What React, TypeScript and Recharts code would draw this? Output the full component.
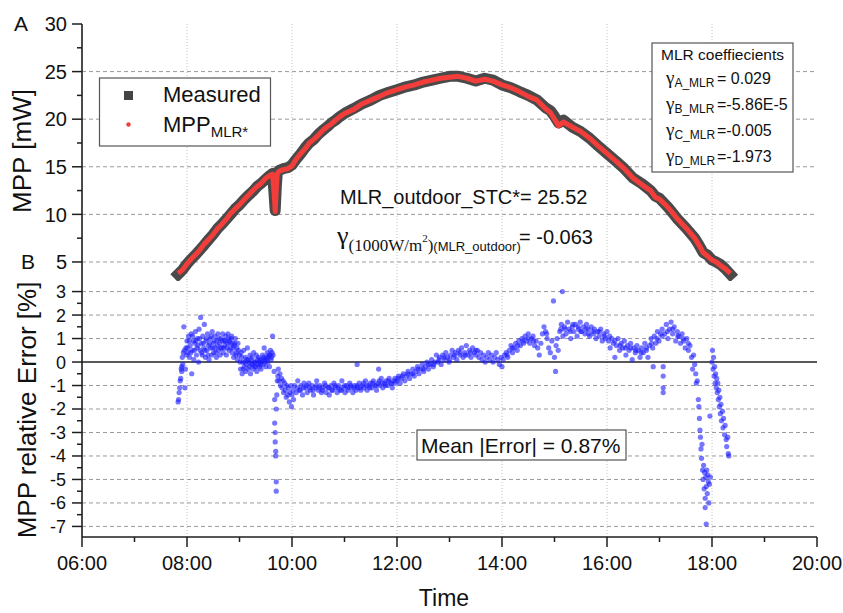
import { CartesianGrid, ComposedChart, Line, ReferenceLine, Scatter, XAxis, YAxis } from "recharts";

const SANS = "'Liberation Sans', Arial, Helvetica, sans-serif";
const SERIF = "'Liberation Serif', 'Times New Roman', serif";
const AXIS = "#1e1e1e";
const INK = "#111";

// axes (time in decimal hours)
const hourTicks = [6, 7, 8, 9, 10, 11, 12, 13, 14, 15, 16, 17, 18, 19, 20];
const hourLabels = [6, 8, 10, 12, 14, 16, 18, 20];
const hourGrid = [8, 10, 12, 14, 16, 18];
const mppTicks = [5, 7.5, 10, 12.5, 15, 17.5, 20, 22.5, 25, 27.5, 30];
const mppLabels = [5, 10, 15, 20, 25, 30];
const mppGrid = [5, 10, 15, 20, 25];
const errTicks = [-7, -6.5, -6, -5.5, -5, -4.5, -4, -3.5, -3, -2.5, -2, -1.5, -1, -0.5, 0, 0.5, 1, 1.5, 2, 2.5, 3];
const errLabels = [-7, -6, -5, -4, -3, -2, -1, 0, 1, 2, 3];
const errGrid = [-7, -6, -5, -4, -3, -2, -1, 1, 2, 3];

// panel A: MPP over the day
const mppTimes = [
  7.83, 7.92, 8.0, 8.08, 8.17, 8.25, 8.33, 8.42, 8.5, 8.58, 8.67, 8.75, 8.83, 8.92, 9.0, 9.08, 9.17, 9.25, 9.33, 9.42,
  9.5, 9.58, 9.63, 9.66, 9.68, 9.7, 9.72, 9.75, 9.83, 9.92, 10.0, 10.08, 10.17, 10.25, 10.33, 10.42, 10.5, 10.58, 10.67, 10.75,
  10.83, 10.92, 11.0, 11.17, 11.33, 11.5, 11.67, 11.83, 12.0, 12.17, 12.33, 12.5, 12.67, 12.83, 13.0, 13.17, 13.33, 13.5, 13.67, 13.83,
  14.0, 14.17, 14.33, 14.5, 14.67, 14.83, 14.92, 15.0, 15.08, 15.17, 15.33, 15.5, 15.67, 15.83, 16.0, 16.17, 16.33, 16.5, 16.67, 16.83,
  16.92, 17.0, 17.17, 17.33, 17.5, 17.67, 17.75, 17.83, 17.92, 18.0, 18.08, 18.17, 18.25, 18.35,
];
const measuredMpp = [
  3.7, 4.2, 4.8, 5.3, 5.8, 6.3, 6.8, 7.4, 7.9, 8.5, 9.0, 9.5, 10.0, 10.6, 11.0, 11.5, 12.0, 12.4, 12.9, 13.3,
  13.7, 14.1, 14.3, 12.0, 10.4, 12.8, 14.4, 14.6, 14.8, 14.9, 15.2, 15.8, 16.4, 17.0, 17.5, 17.9, 18.4, 18.8, 19.2, 19.6,
  19.9, 20.3, 20.6, 21.1, 21.6, 22.0, 22.5, 22.8, 23.1, 23.4, 23.6, 23.9, 24.1, 24.3, 24.5, 24.5, 24.3, 24.0, 24.3, 24.1,
  23.6, 23.3, 22.9, 22.5, 22.0, 21.2, 20.9, 20.3, 19.6, 19.9, 19.2, 18.7, 18.0, 17.2, 16.4, 15.6, 14.8, 13.8, 13.2, 12.5,
  11.9, 11.7, 10.7, 9.6, 8.6, 7.5, 6.8, 6.0, 5.7, 5.2, 5.0, 4.7, 4.3, 3.7,
];
const modelMpp = [
  3.8, 4.2, 4.8, 5.3, 5.8, 6.3, 6.9, 7.4, 7.9, 8.5, 9.0, 9.5, 10.1, 10.6, 11.0, 11.5, 12.0, 12.5, 12.9, 13.3,
  13.8, 14.1, 14.2, 12.2, 10.3, 12.6, 14.3, 14.5, 14.7, 14.8, 15.1, 15.8, 16.4, 16.9, 17.5, 17.9, 18.3, 18.8, 19.2, 19.5,
  19.9, 20.3, 20.6, 21.0, 21.6, 22.0, 22.4, 22.8, 23.1, 23.4, 23.6, 23.9, 24.1, 24.3, 24.4, 24.5, 24.3, 24.0, 24.2, 24.0,
  23.6, 23.3, 22.9, 22.4, 22.0, 21.1, 20.7, 20.0, 19.3, 19.7, 19.2, 18.7, 18.0, 17.2, 16.4, 15.6, 14.8, 13.8, 13.1, 12.5,
  11.8, 11.6, 10.7, 9.6, 8.6, 7.5, 6.8, 6.0, 5.6, 5.2, 5.0, 4.6, 4.3, 3.8,
];

// panel B: relative error [%] as [time, error]
const dawnErrors = [
  [7.83, -1.7], [7.84, -1.6], [7.85, -1.3], [7.86, -1.1], [7.87, -0.8], [7.88, -0.7], [7.89, -0.3], [7.9, -0.4], [7.9, -0.2],
  [7.91, 0.2], [7.92, -0.1], [7.93, 0.4], [7.94, 1.5], [7.95, 0.5], [7.96, -1.1], [7.97, -0.3], [7.98, 0.6], [7.99, 0.3],
  [8.0, 0.9], [8.02, 0.4], [8.03, 1.1], [8.05, 0.2], [8.06, 0.7], [8.08, 1.2], [8.09, -0.5], [8.1, 0.5], [8.12, 0.9], [8.13, 0.1],
  [8.15, 0.8], [8.16, 1.3], [8.18, 0.3], [8.19, 0.6], [8.2, 1.0], [8.22, 0.0], [8.23, 1.4], [8.25, 0.5], [8.26, 1.9], [8.27, 0.8],
  [8.29, 0.3], [8.3, 1.1], [8.32, 0.6], [8.33, 1.6], [8.35, 0.2], [8.36, 0.9], [8.38, 0.5], [8.39, 1.2], [8.41, 0.7], [8.42, 0.1],
  [8.44, 1.0], [8.45, 0.6], [8.47, 0.3], [8.48, 1.3], [8.5, 0.8], [8.51, 0.4], [8.53, 1.1], [8.54, 0.6], [8.56, 0.2], [8.57, 0.9],
  [8.59, 1.2], [8.6, 0.5], [8.62, 0.8], [8.63, 0.3], [8.65, 1.0], [8.66, 0.6], [8.68, 1.2], [8.69, 0.4], [8.71, 0.9], [8.72, 0.7],
  [8.74, 1.1], [8.75, 0.3], [8.77, 0.8], [8.78, 1.2], [8.8, 0.5], [8.81, 0.9], [8.83, 0.6], [8.84, 1.0], [8.86, 0.4], [8.87, 0.8],
  [8.89, 0.2], [8.9, 0.7], [8.92, 1.0], [8.93, 0.3], [8.95, 0.6], [8.96, 0.1], [8.98, 0.5],
];
const morningErrors = [
  [9.0, 0.3], [9.02, -0.3], [9.03, 0.4], [9.05, -0.5], [9.06, 0.0], [9.08, 0.5], [9.09, -0.2], [9.11, 0.2], [9.12, -0.4], [9.14, 0.1],
  [9.15, 0.6], [9.17, -0.3], [9.18, 0.0], [9.2, 0.3], [9.21, -0.5], [9.23, -0.1], [9.24, 0.2], [9.26, -0.3], [9.27, 0.4], [9.29, -0.2],
  [9.3, 0.0], [9.32, 0.3], [9.33, -0.4], [9.35, -0.1], [9.36, 0.2], [9.38, -0.2], [9.39, 0.1], [9.41, -0.3], [9.42, 0.0], [9.44, 0.3],
  [9.45, -0.1], [9.47, 0.6], [9.48, 0.1], [9.5, -0.2], [9.51, 0.2], [9.53, 0.4], [9.54, 0.0], [9.56, 0.3], [9.57, -0.2], [9.59, 0.5],
  [9.6, 0.1], [9.62, 0.4], [9.63, 1.1], [9.64, 0.3], [9.66, -0.4], [9.67, -1.6], [9.67, -2.6], [9.68, -3.0], [9.68, -3.4], [9.69, -3.8],
  [9.69, -4.0], [9.7, -5.1], [9.7, -5.5], [9.7, -2.0], [9.71, -1.4], [9.72, -0.8], [9.73, -0.6], [9.74, -0.3], [9.75, -0.8], [9.77, -0.5],
  [9.78, -1.0], [9.8, -0.7], [9.81, -1.1], [9.83, -0.8], [9.84, -1.3], [9.86, -0.9], [9.87, -1.2], [9.89, -1.5], [9.9, -1.0], [9.92, -1.4],
  [9.93, -1.1], [9.95, -1.7], [9.96, -1.3], [9.98, -1.0], [9.99, -1.9], [10.0, -1.4], [10.02, -1.2], [10.03, -1.6],
];
const middayErrors = [
  [10.05, -1.0], [10.08, -1.3], [10.11, -0.8], [10.14, -1.2], [10.17, -1.0], [10.2, -1.4], [10.23, -0.9], [10.26, -1.1], [10.29, -1.3],
  [10.32, -0.9], [10.35, -1.2], [10.38, -1.0], [10.41, -1.4], [10.44, -1.1], [10.47, -0.8], [10.5, -1.2], [10.53, -1.0], [10.56, -1.3],
  [10.59, -1.1], [10.62, -0.9], [10.65, -1.3], [10.68, -1.1], [10.71, -1.4], [10.74, -1.0], [10.77, -1.2], [10.8, -0.9], [10.83, -1.1],
  [10.86, -1.3], [10.89, -1.0], [10.92, -1.2], [10.95, -0.8], [10.98, -1.1], [11.01, -1.3], [11.04, -1.0], [11.07, -1.2], [11.1, -0.9],
  [11.13, -1.1], [11.16, -1.3], [11.19, -1.0], [11.22, -1.2], [11.24, -0.1], [11.25, -1.1], [11.28, -0.9], [11.31, -1.2], [11.34, -1.0],
  [11.37, -1.1], [11.4, -0.8], [11.43, -1.2], [11.46, -1.0], [11.49, -0.9], [11.52, -1.1], [11.55, -0.8], [11.58, -1.0], [11.61, -1.2],
  [11.64, -0.9], [11.65, -0.3], [11.67, -1.0], [11.7, -0.7], [11.73, -1.1], [11.76, -0.9], [11.79, -0.8], [11.82, -1.0], [11.85, -0.7],
  [11.88, -0.9], [11.91, -1.1], [11.94, -0.8], [11.97, -0.9], [12.0, -0.8], [12.03, -0.6], [12.06, -0.9], [12.09, -0.7], [12.12, -0.5],
  [12.15, -0.8], [12.18, -0.6], [12.21, -0.4], [12.24, -0.7], [12.27, -0.5], [12.3, -0.3], [12.33, -0.6], [12.36, -0.4], [12.39, -0.2],
  [12.42, -0.5], [12.45, -0.3], [12.48, -0.1], [12.51, -0.4], [12.54, -0.2], [12.57, 0.0], [12.6, -0.3], [12.63, -0.1], [12.66, 0.1],
  [12.69, -0.2], [12.72, 0.0], [12.75, 0.3], [12.78, 0.0], [12.81, 0.2], [12.84, -0.1], [12.87, 0.3], [12.9, 0.1], [12.93, 0.4],
  [12.96, 0.2], [12.99, 0.0], [13.02, 0.3], [13.05, 0.5], [13.08, 0.2], [13.11, 0.4], [13.14, 0.1], [13.17, 0.5], [13.2, 0.3],
  [13.23, 0.6], [13.26, 0.2], [13.29, 0.4], [13.32, 0.7], [13.35, 0.3], [13.38, 0.5], [13.41, 0.2], [13.44, 0.6], [13.47, 0.4],
  [13.5, 0.3], [13.53, 0.5], [13.56, 0.2], [13.59, 0.4],
];
const afternoonErrors = [
  [13.62, 0.1], [13.65, 0.3], [13.68, 0.0], [13.71, 0.2], [13.74, 0.4], [13.77, 0.1], [13.8, 0.3], [13.83, 0.0], [13.86, 0.2],
  [13.89, 0.4], [13.92, 0.1], [13.95, -0.1], [13.98, 0.2], [14.0, -0.2], [14.02, 0.1], [14.05, 0.3], [14.08, 0.4], [14.11, 0.2],
  [14.14, 0.5], [14.17, 0.7], [14.2, 0.4], [14.23, 0.6], [14.26, 0.8], [14.29, 0.5], [14.32, 0.9], [14.35, 0.7], [14.38, 1.0],
  [14.41, 0.8], [14.44, 1.1], [14.47, 0.9], [14.5, 1.2], [14.53, 0.8], [14.56, 1.0], [14.59, 1.1], [14.62, 0.7], [14.65, 0.9],
  [14.68, 0.6], [14.71, 0.3], [14.74, 0.8], [14.77, 1.2], [14.8, 1.5], [14.83, 1.3], [14.86, 1.0], [14.89, 0.6], [14.92, 0.4],
  [14.95, 0.9], [14.98, 2.6], [15.0, 0.2], [15.02, -0.4], [15.03, 0.7], [15.05, 1.0], [15.07, 0.5], [15.1, 1.3], [15.13, 1.6],
  [15.15, 3.0], [15.16, 1.1], [15.19, 1.5], [15.22, 1.2], [15.25, 1.7], [15.28, 1.4], [15.31, 1.0], [15.34, 1.5], [15.37, 1.3],
  [15.4, 1.6], [15.43, 1.1], [15.46, 1.4], [15.49, 1.7], [15.52, 1.3], [15.55, 1.5], [15.58, 1.2], [15.61, 1.6], [15.64, 1.4],
  [15.67, 1.1], [15.7, 1.5], [15.73, 1.3], [15.76, 1.4], [15.79, 1.0], [15.82, 1.3], [15.85, 1.1], [15.88, 1.4], [15.91, 0.9],
  [15.94, 1.2], [15.97, 1.0], [16.0, 1.3], [16.03, 0.9], [16.06, 0.6], [16.09, 1.0], [16.12, 0.8], [16.15, 0.2], [16.18, 0.7],
  [16.21, 1.0], [16.24, 0.5], [16.27, 0.8], [16.3, 0.6], [16.33, 0.9], [16.36, 0.3], [16.39, 0.7], [16.42, 0.5], [16.45, 0.8],
  [16.48, 0.1], [16.51, 0.6], [16.54, 0.4], [16.57, 0.7], [16.6, 0.5], [16.63, 0.2], [16.66, 0.6], [16.69, 0.4], [16.72, 0.8],
  [16.75, 0.5], [16.78, 0.2], [16.81, 0.7], [16.84, 1.0], [16.87, 0.6], [16.88, -0.2], [16.9, 1.1], [16.93, 0.8], [16.96, 1.3],
  [16.99, 0.9], [17.02, 1.2], [17.05, 1.4], [17.07, -0.2], [17.07, -0.6], [17.07, -1.1], [17.07, -1.3],
];
const duskErrors = [
  [17.1, 1.2], [17.13, 1.6], [17.16, 1.0], [17.19, 1.4], [17.22, 1.7], [17.25, 1.2], [17.28, 1.5], [17.31, 0.9], [17.34, 1.3],
  [17.37, 1.1], [17.4, 0.8], [17.43, 1.2], [17.46, 0.9], [17.49, 0.6], [17.52, 1.0], [17.55, 0.5], [17.58, 0.7], [17.61, 0.2],
  [17.63, -0.3], [17.65, 0.3], [17.67, -0.1], [17.69, -0.5], [17.7, -0.9], [17.72, -0.8], [17.74, -1.6], [17.75, -1.9], [17.76, -2.4],
  [17.77, -2.9], [17.78, -3.2], [17.79, -3.7], [17.8, -4.1], [17.81, -3.5], [17.82, -4.6], [17.83, -5.0], [17.84, -4.4], [17.85, -5.4],
  [17.86, -4.7], [17.87, -5.8], [17.87, -6.2], [17.88, -4.9], [17.89, -5.3], [17.89, -6.9], [17.9, -4.6], [17.91, -5.6], [17.92, -4.8],
  [17.93, -5.1], [17.94, -6.0], [17.95, -5.2], [17.96, -2.3], [17.97, -4.9], [18.0, 0.0], [18.01, 0.5], [18.02, -0.3], [18.03, 0.2],
  [18.04, -0.6], [18.05, -0.2], [18.06, -0.9], [18.07, -0.5], [18.08, -1.1], [18.09, -0.7], [18.1, -1.3], [18.11, -0.9], [18.12, -1.6],
  [18.13, -1.2], [18.14, -1.9], [18.15, -1.5], [18.16, -2.2], [18.17, -1.8], [18.18, -2.5], [18.2, -2.1], [18.21, -2.8], [18.22, -2.4],
  [18.24, -3.1], [18.25, -2.7], [18.27, -3.3], [18.28, -3.6], [18.3, -3.2], [18.31, -3.9], [18.32, -4.0],
];
// extra readings inside the dense parts of the cloud
const cloudErrors = [
  [8.01, 0.6], [8.04, 0.9], [8.07, 0.4], [8.11, 1.1], [8.14, 0.5], [8.17, 0.9], [8.21, 0.7], [8.24, 1.0], [8.28, 0.4], [8.31, 0.8],
  [8.34, 0.5], [8.37, 1.0], [8.4, 0.3], [8.43, 0.8], [8.46, 1.1], [8.49, 0.6], [8.52, 0.9], [8.55, 0.4], [8.58, 0.7], [8.61, 1.0],
  [8.64, 0.6], [8.67, 0.9], [8.7, 0.6], [8.73, 0.9], [8.76, 0.6], [8.79, 1.0], [8.82, 0.8], [8.85, 1.1], [8.88, 0.6], [8.91, 0.8],
  [8.94, 0.4], [8.97, 0.8], [9.01, 0.0], [9.04, 0.2], [9.07, -0.3], [9.1, 0.0], [9.13, -0.1], [9.16, 0.1], [9.19, -0.2], [9.22, 0.1],
  [9.25, -0.1], [9.28, 0.0], [9.31, -0.2], [9.34, 0.1], [9.37, 0.0], [9.4, -0.1], [9.43, 0.1], [9.46, 0.2], [9.49, 0.0], [9.52, 0.1],
  [9.55, 0.2], [9.58, 0.3], [9.61, 0.2], [10.1, -1.1], [10.16, -1.2], [10.22, -1.1], [10.28, -1.0], [10.34, -1.1], [10.4, -1.2],
  [10.46, -1.0], [10.52, -1.1], [10.58, -1.2], [10.64, -1.0], [10.7, -1.1], [10.76, -1.2], [10.82, -1.0], [10.88, -1.1], [10.94, -1.2],
  [11.0, -1.0], [11.06, -1.1], [11.12, -1.0], [11.18, -1.1], [11.24, -1.0], [11.3, -1.1], [11.36, -0.9], [11.42, -1.0], [11.48, -1.1],
  [11.54, -0.9], [11.6, -1.0], [11.66, -0.8], [11.72, -0.9], [11.78, -1.0], [11.84, -0.8], [11.9, -0.9], [11.96, -0.7], [12.02, -0.7],
  [12.1, -0.6], [12.2, -0.5], [12.3, -0.5], [12.4, -0.3], [12.5, -0.3], [12.6, -0.1], [12.7, -0.1], [12.8, 0.1], [12.9, 0.2],
  [13.0, 0.1], [13.1, 0.3], [13.2, 0.4], [13.3, 0.3], [13.4, 0.4], [13.5, 0.5], [14.1, 0.3], [14.2, 0.6], [14.3, 0.7], [14.4, 0.9],
  [14.5, 1.0], [14.6, 0.9], [14.85, 1.2], [15.12, 1.4], [15.2, 1.4], [15.3, 1.3], [15.35, 1.6], [15.45, 1.5], [15.5, 1.3], [15.6, 1.4],
  [15.65, 1.2], [15.75, 1.2], [15.85, 1.3], [15.95, 1.1], [16.05, 1.1], [16.15, 0.9], [16.25, 0.7], [16.35, 0.6], [16.45, 0.6],
  [16.55, 0.5], [16.65, 0.4], [16.75, 0.6], [16.85, 0.8], [16.95, 1.0], [17.05, 1.1], [17.15, 1.3], [17.25, 1.4], [17.35, 1.1],
  [17.45, 1.0], [17.55, 0.8],
];

const mppRows = mppTimes.map((t, i) => ({ t, measured: measuredMpp[i], model: modelMpp[i] }));
const errorRows = [...dawnErrors, ...morningErrors, ...middayErrors, ...afternoonErrors, ...duskErrors, ...cloudErrors].map(
  ([t, e]) => ({ t, e })
);

const hhmm = (h: number) => `${String(h).padStart(2, "0")}:00`;
const near = (list: number[], v: number) => list.some((m) => Math.abs(m - v) < 1e-6);
const axisLine = { stroke: AXIS, strokeWidth: 1.6 };

// custom ticks: tickSize/tickMargin are 0, so x/y is the axis line itself
const leftTick = (labels: number[], fontSize: number, gap: number) => (p: any) => {
  const v = p.payload.value;
  const major = near(labels, v);
  return (
    <g>
      <line x1={p.x - (major ? 10 : 5)} x2={p.x} y1={p.y} y2={p.y} stroke={AXIS} strokeWidth={1.5} />
      {major && (
        <text x={p.x - gap} y={p.y} dy="0.36em" textAnchor="end" fontSize={fontSize} fontFamily={SANS} fill={INK}>
          {v}
        </text>
      )}
    </g>
  );
};
const rightTick = (labels: number[]) => (p: any) => {
  const major = near(labels, p.payload.value);
  return <line x1={p.x - (major ? 10 : 5)} x2={p.x} y1={p.y} y2={p.y} stroke={AXIS} strokeWidth={1.5} />;
};
const topTick = (labels: number[]) => (p: any) => {
  const major = near(labels, p.payload.value);
  return <line x1={p.x} x2={p.x} y1={p.y} y2={p.y + (major ? 9 : 5)} stroke={AXIS} strokeWidth={1.5} />;
};
const bottomTick = (labels: number[]) => (p: any) => {
  const v = p.payload.value;
  const major = near(labels, v);
  return (
    <g>
      <line x1={p.x} x2={p.x} y1={p.y} y2={p.y + (major ? 10 : 5)} stroke={AXIS} strokeWidth={1.5} />
      {major && (
        <text x={p.x} y={p.y + 33} textAnchor="middle" fontSize={20} fontFamily={SANS} fill={INK}>
          {hhmm(v)}
        </text>
      )}
    </g>
  );
};

const BlueDot = (p: any) => <circle cx={p.cx} cy={p.cy} r={2.6} fill="#1a1aff" fillOpacity={0.6} />;

function CoefRow({ y, sub, value }: { y: number; sub: string; value: string }) {
  return (
    <text x={666} y={y} fill={INK}>
      <tspan fontFamily={SERIF} fontSize={19}>γ</tspan>
      <tspan fontSize={12} dy={3}>{sub}</tspan>
      <tspan x={717} dy={-3} fontSize={16}>{value}</tspan>
    </text>
  );
}

export default function App() {
  return (
    <div style={{ position: "absolute", left: 0, top: 0, width: 843, height: 613, background: "#fff", fontFamily: SANS }}>
      <div style={{ position: "absolute", left: 0, top: 0 }}>
        <ComposedChart width={843} height={282} data={mppRows} margin={{ top: 24, right: 26, bottom: 1, left: 0 }}>
          <CartesianGrid horizontal vertical={false} horizontalValues={mppGrid} stroke="#9a9a9a" strokeDasharray="4 3" />
          <CartesianGrid horizontal={false} vertical verticalValues={hourGrid} stroke="#c2c2c2" strokeDasharray="1 2" />
          <XAxis dataKey="t" type="number" domain={[6, 20]} ticks={hourTicks} hide allowDataOverflow />
          <XAxis
            xAxisId="top"
            orientation="top"
            type="number"
            domain={[6, 20]}
            ticks={hourTicks}
            height={0}
            tickSize={0}
            tickMargin={0}
            interval={0}
            tickLine={false}
            axisLine={axisLine}
            tick={topTick(hourLabels)}
            allowDataOverflow
          />
          <YAxis
            type="number"
            domain={[3, 30]}
            ticks={mppTicks}
            width={82}
            tickSize={0}
            tickMargin={0}
            interval={0}
            tickLine={false}
            axisLine={axisLine}
            tick={leftTick(mppLabels, 20, 15)}
            allowDataOverflow
          />
          <YAxis
            yAxisId="right"
            orientation="right"
            type="number"
            domain={[3, 30]}
            ticks={mppTicks}
            width={0}
            tickSize={0}
            tickMargin={0}
            interval={0}
            tickLine={false}
            axisLine={axisLine}
            tick={rightTick(mppLabels)}
            allowDataOverflow
          />
          <Line
            dataKey="measured"
            stroke="#4a4a4a"
            strokeWidth={11}
            strokeLinejoin="round"
            strokeLinecap="square"
            dot={false}
            isAnimationActive={false}
          />
          <Line dataKey="model" stroke="#f23d3a" strokeWidth={5} strokeLinejoin="round" dot={false} isAnimationActive={false} />
        </ComposedChart>
      </div>

      <div style={{ position: "absolute", left: 0, top: 279 }}>
        <ComposedChart width={843} height={334} margin={{ top: 2, right: 26, bottom: 45, left: 0 }}>
          <CartesianGrid horizontal vertical={false} horizontalValues={errGrid} stroke="#9a9a9a" strokeDasharray="4 3" />
          <CartesianGrid horizontal={false} vertical verticalValues={hourGrid} stroke="#c2c2c2" strokeDasharray="1 2" />
          <XAxis
            dataKey="t"
            type="number"
            domain={[6, 20]}
            ticks={hourTicks}
            height={31}
            tickSize={0}
            tickMargin={0}
            interval={0}
            tickLine={false}
            axisLine={axisLine}
            tick={bottomTick(hourLabels)}
            allowDataOverflow
          />
          <XAxis
            xAxisId="top"
            orientation="top"
            type="number"
            domain={[6, 20]}
            ticks={hourTicks}
            height={0}
            tickSize={0}
            tickMargin={0}
            interval={0}
            tickLine={false}
            axisLine={axisLine}
            tick={topTick(hourLabels)}
            allowDataOverflow
          />
          <YAxis
            dataKey="e"
            type="number"
            domain={[-7.45, 3.45]}
            ticks={errTicks}
            width={82}
            tickSize={0}
            tickMargin={0}
            interval={0}
            tickLine={false}
            axisLine={axisLine}
            tick={leftTick(errLabels, 18, 16)}
            allowDataOverflow
          />
          <YAxis
            yAxisId="right"
            orientation="right"
            type="number"
            domain={[-7.45, 3.45]}
            ticks={errTicks}
            width={0}
            tickSize={0}
            tickMargin={0}
            interval={0}
            tickLine={false}
            axisLine={axisLine}
            tick={rightTick(errLabels)}
            allowDataOverflow
          />
          <ReferenceLine y={0} stroke="#222" strokeWidth={1.6} />
          <Scatter data={errorRows} dataKey="e" shape={BlueDot} isAnimationActive={false} />
        </ComposedChart>
      </div>

      <svg width={843} height={613} style={{ position: "absolute", left: 0, top: 0, pointerEvents: "none" }} fontFamily={SANS}>
        <text x={21} y={31} fontSize={21} textAnchor="middle" fill={INK}>A</text>
        <text x={28} y={269} fontSize={21} textAnchor="middle" fill={INK}>B</text>
        <text transform="translate(31,151) rotate(-90)" textAnchor="middle" fontSize={26} fill={INK}>MPP [mW]</text>
        <text transform="translate(36,410) rotate(-90)" textAnchor="middle" fontSize={26} fill={INK}>MPP relative Error [%]</text>
        <text x={444} y={606} textAnchor="middle" fontSize={23} fill={INK}>Time</text>

        {/* legend */}
        <rect x={99.5} y={78} width={171} height={68} fill="#fff" stroke="#555" strokeWidth={1.2} />
        <rect x={124} y={91} width={9} height={9} fill="#444" />
        <text x={163} y={102} fontSize={22} fill={INK}>Measured</text>
        <circle cx={128.5} cy={124.5} r={2.2} fill="#f23d3a" />
        <text x={163} y={132} fontSize={22} fill={INK}>
          MPP<tspan fontSize={15} dy={5}>MLR*</tspan>
        </text>

        {/* coefficient box */}
        <rect x={652} y={43} width={141} height={129} fill="#fff" stroke="#555" strokeWidth={1.2} />
        <text x={722.5} y={59.5} textAnchor="middle" fontSize={15.5} fill={INK}>MLR coeffiecients</text>
        <CoefRow y={83.5} sub="A_MLR" value="= 0.029" />
        <CoefRow y={110} sub="B_MLR" value="=-5.86E-5" />
        <CoefRow y={136} sub="C_MLR" value="=-0.005" />
        <CoefRow y={161.5} sub="D_MLR" value="=-1.973" />

        {/* annotations */}
        <text x={340} y={204} fontSize={20} fill={INK}>MLR_outdoor_STC*= 25.52</text>
        <text x={337} y={244} fill={INK}>
          <tspan fontFamily={SERIF} fontSize={26}>γ</tspan>
          <tspan fontFamily={SERIF} fontSize={17} dy={7}>(1000W/m</tspan>
          <tspan fontFamily={SERIF} fontSize={11} dy={-9}>2</tspan>
          <tspan fontFamily={SERIF} fontSize={17} dy={9}>)</tspan>
          <tspan fontSize={13}>(MLR_outdoor)</tspan>
          <tspan x={519} dy={-7} fontSize={20}>= -0.063</tspan>
        </text>

        <rect x={417} y={430} width={209} height={30} fill="#fff" stroke="#333" strokeWidth={1} />
        <text x={421} y={452.5} fontSize={21} fill={INK}>Mean |Error| = 0.87%</text>
      </svg>
    </div>
  );
}
